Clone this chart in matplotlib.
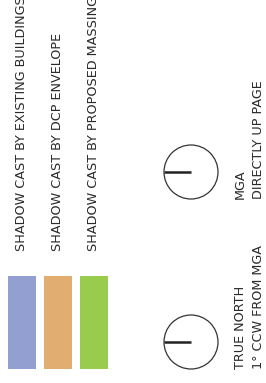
import matplotlib.pyplot as plt
from matplotlib.patches import Rectangle, Circle

# legend entries
labels = ['SHADOW CAST BY EXISTING BUILDINGS',
          'SHADOW CAST BY DCP ENVELOPE',
          'SHADOW CAST BY PROPOSED MASSING']
colors = ['#929fd0', '#e2ad70', '#99cc4c']

# north points: label lines
north_labels = [['TRUE NORTH', '1° CCW FROM MGA'], ['MGA', 'DIRECTLY UP PAGE']]

plt.rcParams['font.family'] = ['Liberation Sans Narrow', 'DejaVu Sans']

fig = plt.figure(figsize=(2.66, 3.83), dpi=100)
ax = fig.add_axes([0, 0, 1, 1])
ax.set_xlim(0, 266)
ax.set_ylim(383, 0)
ax.axis('off')

fs = 9.2
txt = '#2a2a2a'

# swatches + labels
for i, (lab, c) in enumerate(zip(labels, colors)):
    x0 = 8 + i * 36
    ax.add_patch(Rectangle((x0, 276), 28, 93, color=c, lw=0))
    ax.text(x0 + 14, 251, lab, rotation=90, ha='center', va='bottom',
            fontsize=fs, color=txt)

# north arrows
for j, lines in enumerate(north_labels):
    cy = 342 - j * 170
    ax.add_patch(Circle((191, cy), 27, fill=False, ec='#333333', lw=0.9))
    ax.plot([164, 191], [cy, cy], color='#222222', lw=1.8, solid_capstyle='butt')
    ax.text(240, cy + 27, lines[0], rotation=90, ha='center', va='bottom',
            fontsize=fs, color=txt)
    ax.text(258, cy + 27, lines[1], rotation=90, ha='center', va='bottom',
            fontsize=fs, color=txt)

fig.savefig('out.png', dpi=100)
